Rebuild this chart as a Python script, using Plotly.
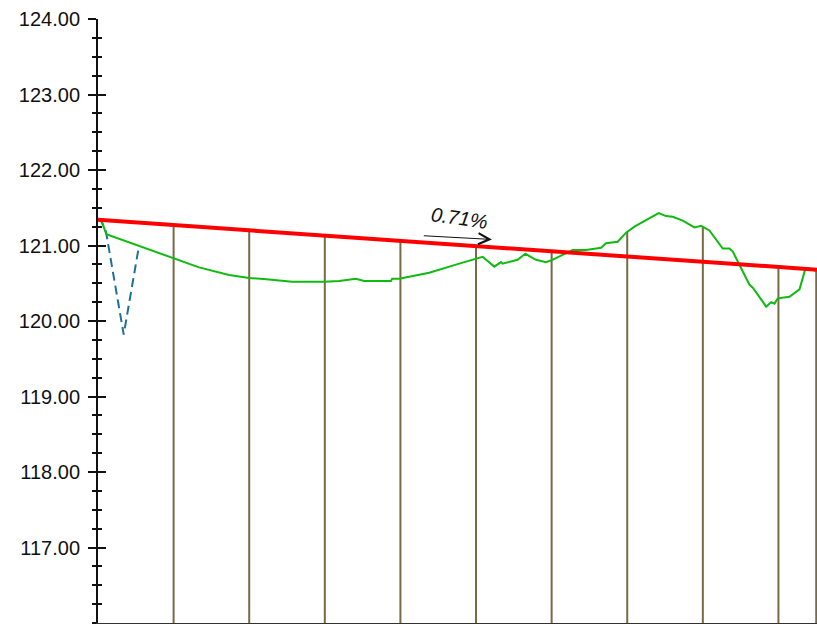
import numpy as np
import plotly.graph_objects as go

# ---- data ----
price_x = [0, 0.053, 0.11, 0.983, 1.337, 1.734, 1.999, 2.263, 2.568, 2.991, 3.19, 3.411,
           3.521, 3.874, 3.891, 3.984, 4.381, 4.778, 5.087, 5.242, 5.33, 5.351, 5.55,
           5.652, 5.794, 5.926, 6.009, 6.278, 6.455, 6.654, 6.72, 6.874, 6.985, 7.095,
           7.293, 7.416, 7.514, 7.602, 7.734, 7.889, 7.977, 8.087, 8.263, 8.352, 8.396,
           8.617, 8.661, 8.838, 8.904, 8.948, 8.991, 9.146, 9.279, 9.358, 9.433, 9.5]
price_y = [121.35, 121.31, 121.15, 120.83, 120.71, 120.61, 120.57, 120.55, 120.52, 120.52,
           120.53, 120.56, 120.53, 120.53, 120.56, 120.56, 120.64, 120.76, 120.85, 120.72,
           120.78, 120.76, 120.81, 120.89, 120.81, 120.78, 120.81, 120.94, 120.94, 120.97,
           121.03, 121.05, 121.17, 121.25, 121.36, 121.43, 121.39, 121.38, 121.33, 121.24,
           121.26, 121.20, 120.96, 120.96, 120.92, 120.48, 120.44, 120.19, 120.25, 120.23,
           120.30, 120.32, 120.42, 120.70, 120.69, 120.66]

dip_x = [0, 0.05, 0.106, 0.34, 0.543]
dip_y = [121.35, 121.31, 121.18, 119.82, 121.00]

trend_x = [0, 9.51]
trend_y = [121.34, 120.68]

mark_x = [1, 2, 3, 4, 5, 6, 7, 8, 9, 9.5]

y_ticks = [117, 118, 119, 120, 121, 122, 123, 124]
y_min, y_max = 116.0, 124.0
x_min, x_max = 0, 9.51

label_text = "0.71%"
label_pos = (4.78, 121.36)
arrow_tail = (4.29, 121.13)
arrow_head = (5.21, 121.08)

# ---- styles ----
GREEN = "#10bb10"
RED = "#ff0000"
TEAL = "#1f7296"
OLIVE = "#786a45"
FONT = "Liberation Sans, Arial, sans-serif"

fig = go.Figure()

# vertical markers from the upper of the two lines down to the bottom
red_at = np.interp(mark_x, trend_x, trend_y)
green_at = np.interp(mark_x, price_x, price_y)
vx, vy = [], []
for xv, r, g in zip(mark_x, red_at, green_at):
    vx += [xv, xv, None]
    vy += [max(r, g), y_min, None]
fig.add_trace(go.Scatter(x=vx, y=vy, mode="lines",
                         line=dict(color=OLIVE, width=2), hoverinfo="skip",
                         showlegend=False))

fig.add_trace(go.Scatter(x=dip_x, y=dip_y, mode="lines",
                         line=dict(color=TEAL, width=2, dash="9px,5px"),
                         showlegend=False))

fig.add_trace(go.Scatter(x=price_x, y=price_y, mode="lines",
                         line=dict(color=GREEN, width=2), showlegend=False))

fig.add_trace(go.Scatter(x=trend_x, y=trend_y, mode="lines",
                         line=dict(color=RED, width=4), showlegend=False))

# invisible trace for the overlay axis (inner half of crossing ticks)
fig.add_trace(go.Scatter(x=[x_min], y=[y_min], yaxis="y2", mode="markers",
                         marker=dict(opacity=0), hoverinfo="skip", showlegend=False))

fig.add_annotation(x=label_pos[0], y=label_pos[1], text="<i>" + label_text + "</i>",
                   showarrow=False, textangle=8,
                   font=dict(family=FONT, size=20, color="#111111"))
fig.add_annotation(x=arrow_head[0], y=arrow_head[1], ax=arrow_tail[0], ay=arrow_tail[1],
                   axref="x", ayref="y", text="", showarrow=True,
                   arrowhead=5, arrowsize=2.2, arrowwidth=1, arrowcolor="#111111")

tick_text = [f"{v:.2f}" for v in y_ticks]
fig.update_layout(
    width=817, height=624,
    margin=dict(l=98, r=0, t=19, b=1, autoexpand=False),
    paper_bgcolor="white", plot_bgcolor="white",
    font=dict(family=FONT, size=20, color="#111111"),
    xaxis=dict(range=[x_min, x_max], showgrid=False, zeroline=False,
               showticklabels=False, ticks="", showline=True, automargin=False,
               linecolor="#333333", linewidth=2, mirror=False),
    yaxis=dict(range=[y_min, y_max], showgrid=False, zeroline=False, automargin=False,
               tickmode="array", tickvals=y_ticks, ticktext=tick_text,
               tickfont=dict(family=FONT, size=20, color="#111111"),
               ticks="outside", ticklen=8, tickwidth=2, tickcolor="#111111",
               showline=True, linecolor="#111111", linewidth=2,
               ticklabelstandoff=4,
               minor=dict(ticks="outside", ticklen=4, tickwidth=2,
                          tickcolor="#111111", dtick=0.25, tick0=116, showgrid=False)),
    yaxis2=dict(range=[y_min, y_max], overlaying="y", side="left", automargin=False,
                showgrid=False, zeroline=False, showticklabels=False,
                tickmode="array", tickvals=y_ticks,
                ticks="inside", ticklen=8, tickwidth=2, tickcolor="#111111",
                showline=False,
                minor=dict(ticks="inside", ticklen=4, tickwidth=2,
                           tickcolor="#111111", dtick=0.25, tick0=116, showgrid=False)),
)

fig.write_html("out.html",
               config={"displayModeBar": False},
               post_script="document.body.style.margin='0';"
                           "document.documentElement.style.overflow='hidden';"
                           "document.body.style.overflow='hidden';")
